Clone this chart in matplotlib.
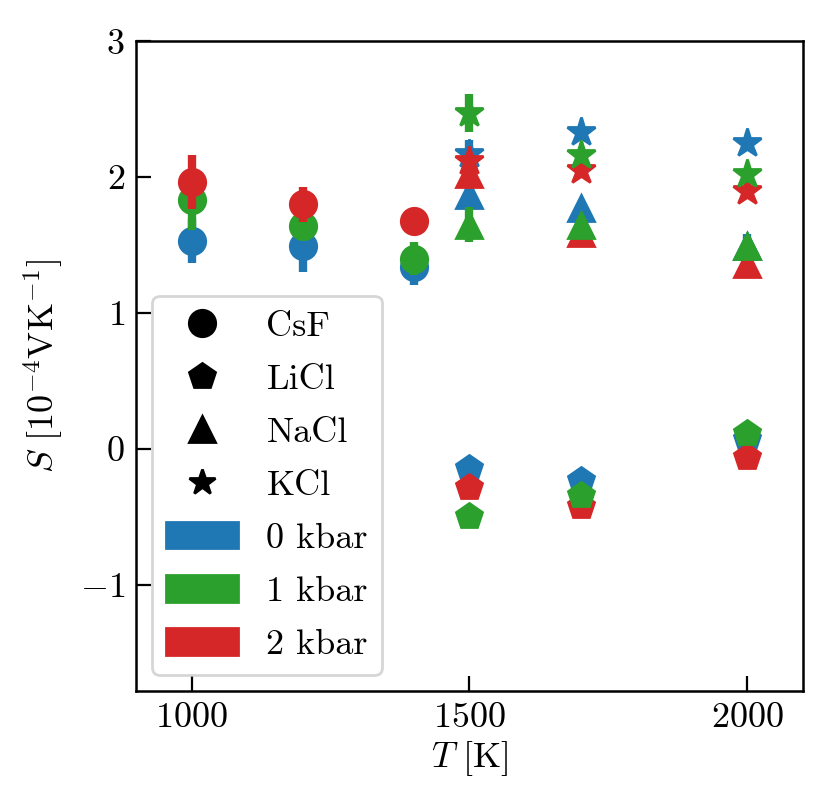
import matplotlib

matplotlib.use("Agg")
import matplotlib.pyplot as plt
from matplotlib.lines import Line2D
from matplotlib.patches import Patch

plt.rcParams["font.family"] = "serif"
plt.rcParams["font.serif"] = ["cmr10"]
plt.rcParams["mathtext.fontset"] = "cm"
plt.rcParams["axes.formatter.use_mathtext"] = True
plt.rcParams["font.size"] = 13

pressures = ["0 kbar", "1 kbar", "2 kbar"]
colors = ["tab:blue", "tab:green", "tab:red"]

# CsF measured at lower temperatures
csf_T = [1000, 1200, 1400]
csf_S = [
    [1.53, 1.49, 1.34],
    [1.83, 1.64, 1.40],
    [1.965, 1.80, 1.68],
]
csf_err = [
    [0.16, 0.19, 0.13],
    [0.22, 0.10, 0.12],
    [0.20, 0.13, 0.03],
]

hot_T = [1500, 1700, 2000]
licl_S = [
    [-0.14, -0.23, 0.07],
    [-0.49, -0.34, 0.115],
    [-0.28, -0.42, -0.06],
]
licl_err = [
    [0.03, 0.03, 0.03],
    [0.03, 0.03, 0.03],
    [0.03, 0.03, 0.03],
]
nacl_S = [
    [1.87, 1.77, 1.49],
    [1.65, 1.65, 1.49],
    [2.02, 1.59, 1.36],
]
nacl_err = [
    [0.05, 0.04, 0.09],
    [0.13, 0.04, 0.04],
    [0.04, 0.04, 0.04],
]
kcl_S = [
    [2.17, 2.33, 2.25],
    [2.47, 2.16, 2.02],
    [2.12, 2.05, 1.90],
]
kcl_err = [
    [0.10, 0.03, 0.03],
    [0.14, 0.03, 0.03],
    [0.04, 0.03, 0.03],
]

ms = 9.5
elw = 3

fig = plt.figure(figsize=(4.16, 4.045), dpi=200)
ax = fig.add_axes([0.1635, 0.146, 0.8015, 0.803])

for i in range(3):
    ax.errorbar(csf_T, csf_S[i], yerr=csf_err[i], fmt="o", color=colors[i],
                ms=ms, elinewidth=elw, capsize=0, zorder=2 + i)

# hotter salts: green ends up on top of red
hot_order = [0, 2, 1]
for rank, i in enumerate(hot_order):
    for vals, errs, mk in [(licl_S, licl_err, "p"), (nacl_S, nacl_err, "^"),
                           (kcl_S, kcl_err, "*")]:
        ax.errorbar(hot_T, vals[i], yerr=errs[i], fmt=mk, color=colors[i],
                    ms=ms if mk != "*" else ms + 1, elinewidth=elw, capsize=0,
                    zorder=2 + rank)

ax.set_xlim(900, 2100)
ax.set_ylim(-1.78, 3)
ax.set_xticks([1000, 1500, 2000])
ax.set_yticks([-1, 0, 1, 2, 3])
ax.tick_params(direction="in", length=5.5, width=0.8, labelsize=13, pad=4)
for sp in ax.spines.values():
    sp.set_linewidth(0.9)
ax.set_xlabel(r"$T\ [\mathrm{K}]$", fontsize=13, labelpad=2)
ax.set_ylabel(r"$S\ [10^{-4}\mathrm{VK}^{-1}]$", fontsize=13, labelpad=5)

handles = [
    Line2D([], [], marker="o", color="k", ls="none", ms=ms, label="CsF"),
    Line2D([], [], marker="p", color="k", ls="none", ms=ms, label="LiCl"),
    Line2D([], [], marker="^", color="k", ls="none", ms=ms, label="NaCl"),
    Line2D([], [], marker="*", color="k", ls="none", ms=ms, label="KCl"),
]
for c, p in zip(colors, pressures):
    handles.append(Patch(color=c, label=p))

ax.legend(handles=handles, loc="lower left", handlelength=2.0,
          handleheight=0.75, labelspacing=0.56, handletextpad=0.78,
          borderpad=0.38, borderaxespad=0.45, fontsize=13)

fig.savefig("out.png", dpi=200)
